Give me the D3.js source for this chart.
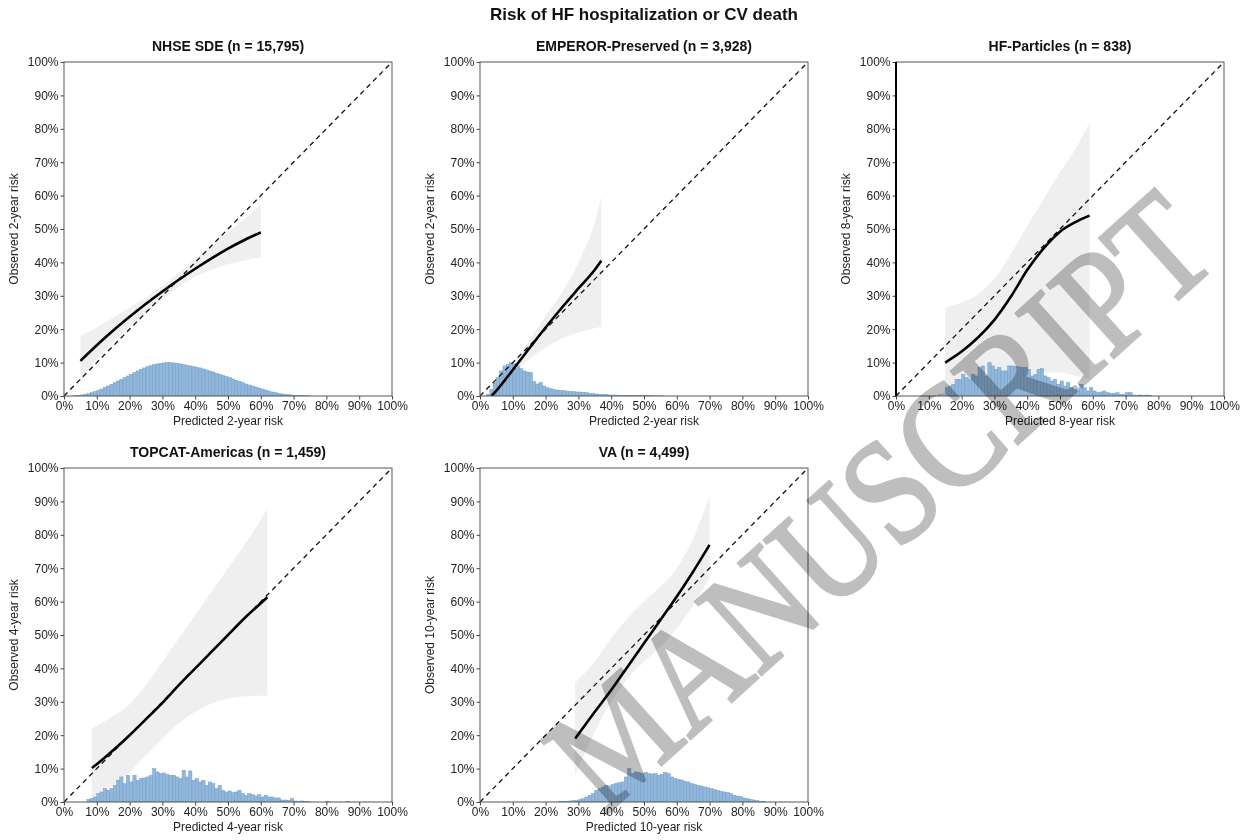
<!DOCTYPE html>
<html lang="en">
<head>
<meta charset="UTF-8">
<title>Risk of HF hospitalization or CV death</title>
<script src="https://cdn.jsdelivr.net/npm/d3@7"></script>
<style>
  body{margin:0;background:#fff;}
  svg{font-family:"Liberation Sans",Arial,sans-serif;}
  .tick text{font-size:12px;fill:#222;}
  .tick line{stroke:#444;}
  .axis path.domain{display:none;}
  .frame{fill:none;stroke:#555;stroke-width:1;}
  .band{fill:#efefef;}
  .bar{fill:#93b7db;stroke:#6f9dcb;stroke-width:0.5;}
  .diag{stroke:#111;stroke-width:1.3;stroke-dasharray:5,4;fill:none;}
  .fit{stroke:#000;stroke-width:2.6;fill:none;}
  .ptitle{font-size:14px;font-weight:bold;text-anchor:middle;fill:#111;}
  .alabel{font-size:12px;text-anchor:middle;fill:#222;}
  .mark{font-family:"Liberation Serif","Times New Roman",serif;fill:#bebebe;stroke:#bebebe;stroke-width:3;mix-blend-mode:multiply;}
</style>
</head>
<body>
<svg width="1250" height="840"></svg>
<script>
// ---- data ----
var mainTitle = "Risk of HF hospitalization or CV death";
var panelTitles = ["NHSE SDE (n = 15,795)", "EMPEROR-Preserved (n = 3,928)", "HF-Particles (n = 838)",
                   "TOPCAT-Americas (n = 1,459)", "VA (n = 4,499)"];
var xLabels = ["Predicted 2-year risk", "Predicted 2-year risk", "Predicted 8-year risk",
               "Predicted 4-year risk", "Predicted 10-year risk"];
var yLabels = ["Observed 2-year risk", "Observed 2-year risk", "Observed 8-year risk",
               "Observed 4-year risk", "Observed 10-year risk"];
var tickValues = [0, 0.1, 0.2, 0.3, 0.4, 0.5, 0.6, 0.7, 0.8, 0.9, 1];
var tickLabels = ["0%", "10%", "20%", "30%", "40%", "50%", "60%", "70%", "80%", "90%", "100%"];
var binWidth = 0.01;

// NHSE SDE
var nhseGrid  = [0.05, 0.1, 0.15, 0.2, 0.25, 0.3, 0.35, 0.4, 0.45, 0.5, 0.55, 0.6];
var nhseFit   = [0.105, 0.152, 0.196, 0.237, 0.276, 0.313, 0.348, 0.381, 0.412, 0.441, 0.467, 0.49];
var nhseUpper = [0.18, 0.205, 0.235, 0.265, 0.295, 0.33, 0.37, 0.41, 0.45, 0.49, 0.53, 0.572];
var nhseLower = [0.04, 0.112, 0.162, 0.205, 0.25, 0.29, 0.327, 0.357, 0.378, 0.395, 0.406, 0.415];
var nhseHistStart = 0.03;
var nhseHist = [0.001, 0.002, 0.003, 0.005, 0.007, 0.01, 0.013, 0.017, 0.021, 0.026, 0.03, 0.035, 0.04, 0.045,
  0.05, 0.055, 0.06, 0.065, 0.07, 0.075, 0.08, 0.084, 0.088, 0.091, 0.094, 0.096, 0.098, 0.099, 0.1, 0.1,
  0.099, 0.098, 0.096, 0.094, 0.092, 0.09, 0.088, 0.086, 0.084, 0.081, 0.078, 0.075, 0.072, 0.068, 0.065,
  0.062, 0.058, 0.055, 0.051, 0.047, 0.044, 0.04, 0.036, 0.033, 0.03, 0.027, 0.024, 0.021, 0.018, 0.015,
  0.012, 0.01, 0.008, 0.006, 0.005, 0.004, 0.003, 0.002, 0.0015, 0.001, 0.0007, 0.0005];

// EMPEROR-Preserved
var empGrid  = [0.035, 0.05, 0.1, 0.15, 0.2, 0.25, 0.3, 0.35, 0.37];
var empFit   = [0, 0.016, 0.078, 0.142, 0.205, 0.265, 0.322, 0.378, 0.405];
var empUpper = [0.012, 0.03, 0.1, 0.165, 0.24, 0.31, 0.4, 0.52, 0.598];
var empLower = [-0.01, 0.006, 0.065, 0.11, 0.145, 0.172, 0.19, 0.203, 0.207];
var empHistStart = 0.02;
var empHist = [0.005, 0.02, 0.04, 0.055, 0.075, 0.09, 0.095, 0.1, 0.098, 0.09, 0.082, 0.075, 0.072, 0.07,
  0.043, 0.036, 0.04, 0.03, 0.025, 0.022, 0.019, 0.018, 0.017, 0.016, 0.015, 0.013, 0.013, 0.012, 0.012,
  0.011, 0.01, 0.008, 0.007, 0.006, 0.005, 0.004, 0.004, 0.003, 0.003, 0.003, 0.002, 0.002, 0.002, 0.002,
  0.001, 0.001, 0.001, 0.001, 0.001, 0.0008, 0.0006, 0.0005, 0.0005, 0.0005];

// HF-Particles
var hfpGrid  = [0.15, 0.2, 0.25, 0.3, 0.35, 0.4, 0.45, 0.5, 0.55, 0.59];
var hfpFit   = [0.1, 0.133, 0.175, 0.228, 0.297, 0.377, 0.442, 0.492, 0.522, 0.54];
var hfpUpper = [0.265, 0.28, 0.305, 0.35, 0.425, 0.51, 0.59, 0.67, 0.745, 0.818];
var hfpLower = [-0.02, 0, 0.005, 0.02, 0.04, 0.06, 0.07, 0.07, 0.06, 0.05];
var hfpHistStart = 0.13;
var hfpHist = [0.004, 0.006, 0.025, 0.03, 0.035, 0.05, 0.05, 0.065, 0.055, 0.05, 0.065, 0.06, 0.085, 0.09,
  0.06, 0.1, 0.09, 0.08, 0.085, 0.075, 0.075, 0.09, 0.09, 0.089, 0.087, 0.085, 0.085, 0.08, 0.06, 0.065,
  0.08, 0.082, 0.06, 0.055, 0.045, 0.05, 0.035, 0.045, 0.03, 0.04, 0.025, 0.02, 0.015, 0.035, 0.025, 0.015,
  0.025, 0.015, 0.01, 0.012, 0.015, 0.01, 0.008, 0.008, 0.01, 0.005, 0.005, 0.01, 0.01, 0.003, 0.002,
  0.003, 0.002, 0.003, 0.002];

// TOPCAT-Americas
var topGrid  = [0.085, 0.1, 0.15, 0.2, 0.25, 0.3, 0.35, 0.4, 0.45, 0.5, 0.55, 0.6, 0.62];
var topFit   = [0.102, 0.113, 0.155, 0.2, 0.248, 0.297, 0.35, 0.4, 0.45, 0.5, 0.55, 0.595, 0.613];
var topUpper = [0.22, 0.228, 0.258, 0.293, 0.35, 0.42, 0.49, 0.56, 0.63, 0.7, 0.77, 0.845, 0.878];
var topLower = [0.01, 0.02, 0.05, 0.09, 0.14, 0.19, 0.235, 0.27, 0.295, 0.31, 0.316, 0.318, 0.318];
var topHistStart = 0.07;
var topHist = [0.008, 0.01, 0.015, 0.025, 0.03, 0.04, 0.035, 0.04, 0.05, 0.065, 0.075, 0.055, 0.08, 0.06,
  0.08, 0.065, 0.07, 0.072, 0.075, 0.08, 0.1, 0.09, 0.085, 0.087, 0.083, 0.08, 0.08, 0.075, 0.07, 0.095,
  0.075, 0.093, 0.065, 0.07, 0.06, 0.065, 0.05, 0.06, 0.055, 0.04, 0.05, 0.035, 0.03, 0.033, 0.028, 0.03,
  0.035, 0.025, 0.02, 0.025, 0.022, 0.018, 0.022, 0.015, 0.02, 0.015, 0.015, 0.012, 0.012, 0.006, 0.006,
  0.005, 0.01, 0.003, 0.002, 0.003, 0.002, 0.002, 0, 0, 0, 0, 0, 0.002, 0, 0, 0, 0, 0, 0.002];

// VA
var vaGrid  = [0.29, 0.35, 0.4, 0.45, 0.5, 0.55, 0.6, 0.65, 0.7];
var vaFit   = [0.19, 0.27, 0.335, 0.405, 0.475, 0.545, 0.615, 0.69, 0.77];
var vaUpper = [0.357, 0.42, 0.49, 0.55, 0.6, 0.645, 0.7, 0.79, 0.915];
var vaLower = [0.08, 0.21, 0.3, 0.37, 0.42, 0.465, 0.52, 0.59, 0.67];
var vaHistStart = 0.24;
var vaHist = [0.001, 0.002, 0.002, 0.003, 0.004, 0.005, 0.007, 0.01, 0.015, 0.02, 0.025, 0.035, 0.04, 0.045,
  0.05, 0.048, 0.052, 0.055, 0.058, 0.06, 0.075, 0.1, 0.085, 0.09, 0.088, 0.085, 0.088, 0.085, 0.084, 0.085,
  0.08, 0.083, 0.088, 0.085, 0.075, 0.07, 0.068, 0.066, 0.062, 0.06, 0.055, 0.052, 0.05, 0.048, 0.045,
  0.043, 0.04, 0.037, 0.035, 0.032, 0.03, 0.028, 0.025, 0.02, 0.018, 0.016, 0.012, 0.01, 0.008, 0.006,
  0.004, 0.002, 0.001];

var watermark = "MANUSCRIPT";

// ---- layout ----
var svg = d3.select("svg"),
    w = 328, h = 334,
    lefts = [64, 480, 896, 64, 480],
    tops = [62, 62, 62, 468, 468];

var panels = [
  {grid: nhseGrid, fit: nhseFit, up: nhseUpper, lo: nhseLower, hs: nhseHistStart, hist: nhseHist},
  {grid: empGrid, fit: empFit, up: empUpper, lo: empLower, hs: empHistStart, hist: empHist},
  {grid: hfpGrid, fit: hfpFit, up: hfpUpper, lo: hfpLower, hs: hfpHistStart, hist: hfpHist},
  {grid: topGrid, fit: topFit, up: topUpper, lo: topLower, hs: topHistStart, hist: topHist},
  {grid: vaGrid, fit: vaFit, up: vaUpper, lo: vaLower, hs: vaHistStart, hist: vaHist}
];

svg.append("text")
  .attr("x", 644).attr("y", 20)
  .attr("text-anchor", "middle")
  .style("font-size", "17px").style("font-weight", "bold").style("fill", "#111")
  .text(mainTitle);

var x = d3.scaleLinear().domain([0, 1]).range([0, w]),
    y = d3.scaleLinear().domain([0, 1]).range([h, 0]);

svg.append("defs").append("clipPath").attr("id", "plotclip")
  .append("rect").attr("width", w).attr("height", h);

panels.forEach(function(p, i){
  var g = svg.append("g").attr("transform", "translate(" + lefts[i] + "," + tops[i] + ")");
  var plot = g.append("g").attr("clip-path", "url(#plotclip)");

  var rows = p.grid.map(function(v, k){ return {x: v, fit: p.fit[k], up: p.up[k], lo: p.lo[k]}; });

  plot.append("path")
    .datum(rows)
    .attr("class", "band")
    .attr("d", d3.area()
      .x(function(d){ return x(d.x); })
      .y0(function(d){ return y(d.lo); })
      .y1(function(d){ return y(d.up); })
      .curve(d3.curveMonotoneX));

  var bins = p.hist.map(function(v, k){ return {x0: p.hs + k * binWidth, v: v}; })
                   .filter(function(d){ return d.v > 0; });
  plot.selectAll(".bar")
    .data(bins)
    .enter().append("rect")
    .attr("class", "bar")
    .attr("x", function(d){ return x(d.x0); })
    .attr("width", x(binWidth) - x(0))
    .attr("y", function(d){ return y(d.v); })
    .attr("height", function(d){ return y(0) - y(d.v); });

  plot.append("path")
    .datum([0, 1])
    .attr("class", "diag")
    .attr("d", d3.line().x(function(d){ return x(d); }).y(function(d){ return y(d); }));

  plot.append("path")
    .datum(rows.filter(function(d){ return d.fit >= 0; }))
    .attr("class", "fit")
    .attr("d", d3.line()
      .x(function(d){ return x(d.x); })
      .y(function(d){ return y(d.fit); })
      .curve(d3.curveMonotoneX));

  g.append("g")
    .attr("class", "axis")
    .attr("transform", "translate(0," + h + ")")
    .call(d3.axisBottom(x).tickValues(tickValues).tickSize(3.5).tickPadding(2)
      .tickFormat(function(d, k){ return tickLabels[k]; }));
  g.append("g")
    .attr("class", "axis")
    .call(d3.axisLeft(y).tickValues(tickValues).tickSize(3.5).tickPadding(2)
      .tickFormat(function(d, k){ return tickLabels[k]; }));

  g.append("rect").attr("class", "frame").attr("width", w).attr("height", h);
  if (i === 2) {
    g.append("line").attr("x1", 0).attr("x2", 0).attr("y1", 0).attr("y2", h)
      .attr("stroke", "#000").attr("stroke-width", 2);
  }

  g.append("text").attr("class", "ptitle")
    .attr("x", w / 2).attr("y", -11)
    .text(panelTitles[i]);
  g.append("text").attr("class", "alabel")
    .attr("x", w / 2).attr("y", h + 29)
    .text(xLabels[i]);
  g.append("text").attr("class", "alabel")
    .attr("transform", "translate(-46," + (h / 2) + ") rotate(-90)")
    .text(yLabels[i]);
});

svg.append("text")
  .attr("class", "mark")
  .attr("text-anchor", "end")
  .attr("transform", "translate(1222,260) rotate(-42) scale(0.86,1)")
  .style("font-size", "150px")
  .text(watermark);
</script>
</body>
</html>
